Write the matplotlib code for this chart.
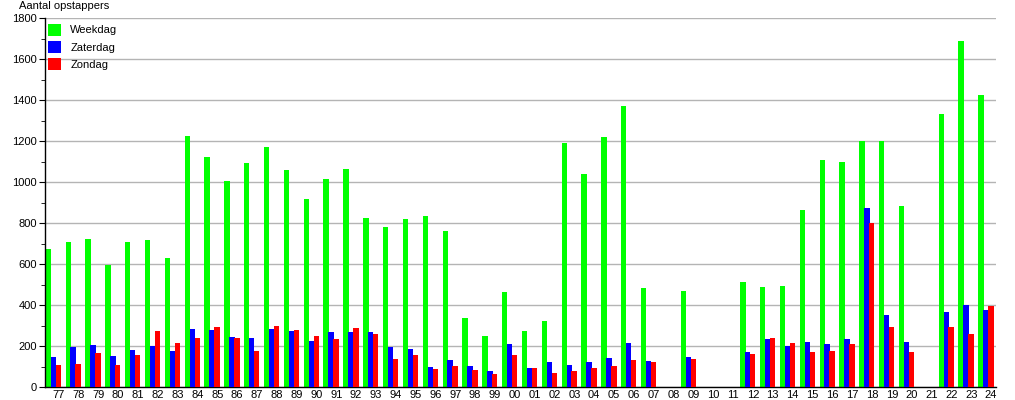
import numpy as np
import matplotlib
matplotlib.use("Agg")
import matplotlib.pyplot as plt
from matplotlib.ticker import MultipleLocator

plt.rcParams['font.family'] = ['Liberation Sans', 'DejaVu Sans']

years = ['77', '78', '79', '80', '81', '82', '83', '84', '85', '86', '87', '88',
         '89', '90', '91', '92', '93', '94', '95', '96', '97', '98', '99', '00',
         '01', '02', '03', '04', '05', '06', '07', '08', '09', '10', '11', '12',
         '13', '14', '15', '16', '17', '18', '19', '20', '21', '22', '23', '24']

weekdag = [675, 707, 722, 595, 707, 717, 629, 1224, 1122, 1005, 1093, 1171,
           1059, 917, 1015, 1063, 824, 780, 819, 834, 761, 337, 249, 463,
           273, 323, 1190, 1040, 1220, 1371, 483, 0, 468, 0, 0, 512,
           488, 493, 863, 1107, 1098, 1200, 1200, 883, 0, 1332, 1688, 1424]

zaterdag = [146, 195, 205, 151, 180, 200, 176, 283, 278, 244, 239, 283,
            273, 224, 268, 268, 268, 195, 185, 98, 132, 102, 78, 210,
            93, 122, 107, 122, 141, 215, 127, 0, 146, 0, 0, 171,
            234, 200, 220, 210, 234, 875, 351, 223, 0, 366, 400, 376]

zondag = [107, 112, 166, 107, 156, 273, 215, 239, 293, 239, 176, 298,
          278, 249, 234, 288, 259, 137, 156, 88, 102, 83, 63, 156,
          93, 68, 78, 93, 102, 132, 122, 0, 137, 0, 0, 161,
          239, 215, 171, 176, 210, 801, 293, 171, 0, 293, 258, 395]

fig = plt.figure(figsize=(10.15, 4.0), dpi=100)
ax = fig.add_axes([45 / 1015, 12.7 / 400, 951 / 1015, 369 / 400])

x = np.arange(len(years))
w = 0.27
ax.bar(x + 0.14, weekdag, width=w, color='#00ff00', label='Weekdag', zorder=2)
ax.bar(x + 0.39, zaterdag, width=w, color='#0000ff', label='Zaterdag', zorder=3)
ax.bar(x + 0.64, zondag, width=w, color='#ff0000', label='Zondag', zorder=4)

ax.set_xlim(-0.03, 47.9)
ax.set_ylim(0, 1800)
ax.set_xticks(x + 0.65)
ax.set_xticklabels(years)
ax.yaxis.set_major_locator(MultipleLocator(200))
ax.yaxis.set_minor_locator(MultipleLocator(100))
ax.tick_params(axis='x', length=0, pad=2, labelsize=8)
ax.tick_params(axis='y', which='major', length=4, labelsize=8, pad=2)
ax.tick_params(axis='y', which='minor', length=3)
ax.grid(axis='y', color='#b4b4b4', linewidth=1, zorder=0)

for side in ['top', 'right']:
    ax.spines[side].set_visible(False)
ax.spines['left'].set_linewidth(1)
ax.spines['bottom'].set_linewidth(1)

ax.legend(loc='upper left', frameon=False, fontsize=8, handlelength=1.25,
          handleheight=1.25, handletextpad=0.8, labelspacing=0.5,
          borderaxespad=0.0, bbox_to_anchor=(-0.002, 0.997))

fig.text(19 / 1015, 1 - 6 / 400, 'Aantal opstappers', fontsize=8, va='center', ha='left')

fig.savefig('out.png', dpi=100)
